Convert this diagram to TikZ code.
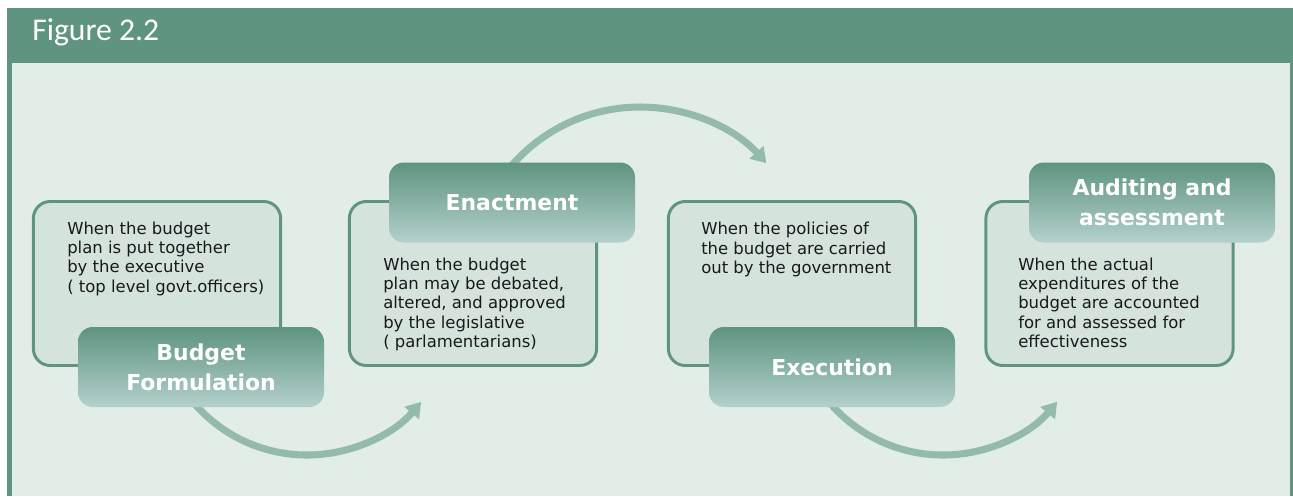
\documentclass[tikz,border=0pt]{standalone}
\usepackage{fontspec}
\setmainfont{DejaVu Sans}
\newfontfamily\captionfont{Carlito}
\usetikzlibrary{arrows.meta}
\definecolor{figgreen}{HTML}{5E9480}
\definecolor{figpanel}{HTML}{E3EDE8}
\definecolor{stagefill}{HTML}{D5E3DD}
\definecolor{phasetop}{HTML}{5E9480}
\definecolor{phasebottom}{HTML}{B4D0CD}
\definecolor{flowgreen}{HTML}{93BAAA}

\begin{document}
\begin{tikzpicture}[
    stage/.style={draw=figgreen, line width=2.1pt, rounded corners=0.42cm, fill=stagefill,
                  minimum width=6.18cm, minimum height=4.1cm},
    phase/.style={rounded corners=0.37cm, top color=phasetop, bottom color=phasebottom,
                  minimum width=6.15cm, minimum height=2cm, align=center, text=white,
                  font=\bfseries\fontsize{15.6}{21.3}\selectfont},
    note/.style={anchor=north west, inner sep=0pt, align=left, text=black!90,
                 font=\fontsize{11.7}{13.7}\selectfont},
    flow/.style={-{Triangle[length=10.5pt,width=13pt]}, draw=flowgreen, line width=5pt}
  ]
  \useasboundingbox (0,0) rectangle (32.325,12.4);
  % frame and caption bar
  \fill[figgreen] (0.175,0) rectangle (32.325,12.2);
  \fill[figpanel] (0.3,0) rectangle (32.2375,10.825);
  \node[anchor=base west, inner sep=0pt, text=white,
        font=\captionfont\fontsize{22.5}{26}\selectfont] (fig) at (0.8,11.375) {Figure 2.2};

  \node[stage] (desc1) at (3.925,5.3125) {};
  \node[stage] (desc2) at (11.825,5.3125) {};
  \node[stage] (desc3) at (19.8,5.3125) {};
  \node[stage] (desc4) at (27.7375,5.3125) {};

  \node[note] (txt1) at (1.675,6.8625) {When the budget\\plan is put together\\by the executive\\( top level govt.officers)};
  \node[note] (txt2) at (9.575,5.9625) {When the budget\\plan may be debated,\\altered, and approved\\by the legislative\\( parlamentarians)};
  \node[note] (txt3) at (17.525,6.85) {When the policies of\\the budget are carried\\out by the government};
  \node[note] (txt4) at (25.45,5.9625) {When the actual\\expenditures of the\\budget are accounted\\for and assessed for\\effectiveness};

  % curved arrows, tails hidden under the phase boxes
  \coordinate (a1) at (4.624,2.613);
  \coordinate (a2) at (12.319,7.6);
  \coordinate (a3) at (20.524,2.613);
  \draw[flow] (a1) arc[start angle=215, end angle=320, radius=3.725cm];
  \draw[flow] (a2) arc[start angle=150, end angle=42, radius=4.25cm];
  \draw[flow] (a3) arc[start angle=215, end angle=320, radius=3.725cm];

  \node[phase] (ph1) at (5.025,3.225) {Budget\\Formulation};
  \node[phase] (ph2) at (12.8,7.3375) {Enactment};
  \node[phase] (ph3) at (20.8,3.225) {Execution};
  \node[phase] (ph4) at (28.8,7.3375) {Auditing and\\assessment};
\end{tikzpicture}
\end{document}
